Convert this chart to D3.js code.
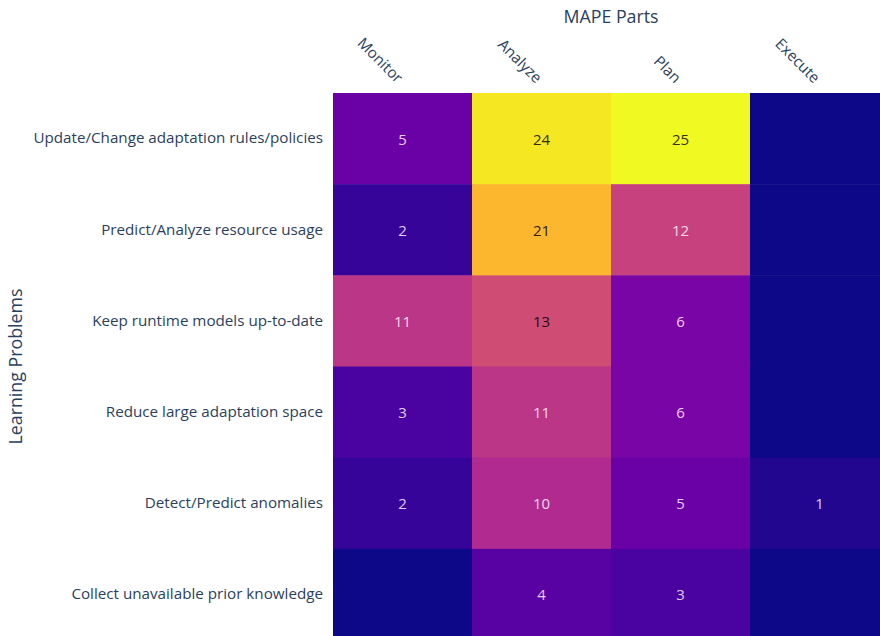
<!DOCTYPE html>
<html>
<head>
<meta charset="utf-8">
<script src="https://cdn.jsdelivr.net/npm/d3@7"></script>
<style>
  body { margin: 0; background: #fff; }
  svg { display: block; font-family: "Open Sans", sans-serif; }
</style>
</head>
<body>
<div id="graf"></div>
<script>
// Datos
const partes = ['Monitor', 'Analyze', 'Plan', 'Execute']
const problemas = [
    'Update/Change adaptation rules/policies',
    'Predict/Analyze resource usage',
    'Keep runtime models up-to-date',
    'Reduce large adaptation space',
    'Detect/Predict anomalies',
    'Collect unavailable prior knowledge'
]
const monitor = [5, 2, 11, 3, 2, 0]
const analyze = [24, 21, 13, 11, 10, 4]
const plan = [25, 12, 6, 6, 5, 3]
const execute = [0, 0, 0, 0, 1, 0]
const plasma = ['#0d0887', '#46039f', '#7201a8', '#9c179e', '#bd3786',
    '#d8576b', '#ed7953', '#fb9f3a', '#fdca26', '#f0f921']

const series = [monitor, analyze, plan, execute]
const celdas = []
problemas.forEach((p, i) => {
    partes.forEach((m, j) => {
        celdas.push({ problema: p, parte: m, valor: series[j][i] })
    })
})

// Dimensiones
const anchoTotal = 880
const altoTotal = 636
const margins = { top: 93, left: 333 }
const celdaAncho = 139
const celdaAlto = 91.17

const svg = d3.select('#graf').append('svg')
    .attr('width', anchoTotal)
    .attr('height', altoTotal)

// Escaladores
const x = d3.scaleBand()
    .domain(partes)
    .range([margins.left, margins.left + celdaAncho * partes.length])

const y = d3.scaleBand()
    .domain(problemas)
    .range([margins.top, margins.top + celdaAlto * problemas.length])

const maxV = d3.max(celdas, (d) => d.valor)
const color = d3.scaleLinear()
    .domain(plasma.map((c, i) => (i / (plasma.length - 1)) * maxV))
    .range(plasma)
    .interpolate(d3.interpolateRgb)

// Celdas
svg.append('g').selectAll('rect')
    .data(celdas)
    .enter()
    .append('rect')
    .attr('x', (d) => x(d.parte))
    .attr('y', (d) => y(d.problema))
    .attr('width', x.bandwidth() + 0.5)
    .attr('height', y.bandwidth() + 0.5)
    .attr('fill', (d) => color(d.valor))

const brillo = (c) => {
    const r = d3.rgb(c)
    return (r.r * 299 + r.g * 587 + r.b * 114) / 1000
}
const colorTexto = (d) => {
    const h = d3.hsl(color(d.valor))
    if (brillo(color(d.valor)) > 112) { h.l = 0.1 } else { h.l = 0.9 }
    return h.formatHex()
}

svg.append('g').selectAll('text')
    .data(celdas.filter((d) => d.valor > 0))
    .enter()
    .append('text')
    .attr('x', (d) => x(d.parte) + x.bandwidth() / 2)
    .attr('y', (d) => y(d.problema) + y.bandwidth() / 2)
    .attr('text-anchor', 'middle')
    .attr('dominant-baseline', 'central')
    .attr('font-size', 15)
    .attr('fill', colorTexto)
    .text((d) => d.valor)

// Ejes
const yAxis = svg.append('g')
    .attr('transform', `translate(${margins.left}, 0)`)
    .call(d3.axisLeft(y).tickSize(0).tickPadding(10))
yAxis.select('.domain').remove()
yAxis.selectAll('text')
    .attr('font-size', 15.2)
    .attr('font-family', '"Open Sans", sans-serif')
    .attr('fill', '#2a3f5f')

const xAxis = svg.append('g')
    .attr('transform', `translate(0, ${margins.top})`)
    .call(d3.axisTop(x).tickSize(0).tickPadding(0))
xAxis.select('.domain').remove()
xAxis.selectAll('text')
    .attr('font-size', 15.2)
    .attr('font-family', '"Open Sans", sans-serif')
    .attr('fill', '#2a3f5f')
    .attr('text-anchor', 'end')
    .attr('dy', 0)
    .attr('transform', 'translate(-6, -9) rotate(45)')

// Titulos
svg.append('text')
    .attr('x', margins.left + celdaAncho * partes.length / 2)
    .attr('y', 23)
    .attr('text-anchor', 'middle')
    .attr('font-size', 17.8)
    .attr('fill', '#2a3f5f')
    .text('MAPE Parts')

svg.append('text')
    .attr('transform', `translate(22, ${margins.top + celdaAlto * problemas.length / 2}) rotate(-90)`)
    .attr('text-anchor', 'middle')
    .attr('font-size', 17.8)
    .attr('fill', '#2a3f5f')
    .text('Learning Problems')
</script>
</body>
</html>
